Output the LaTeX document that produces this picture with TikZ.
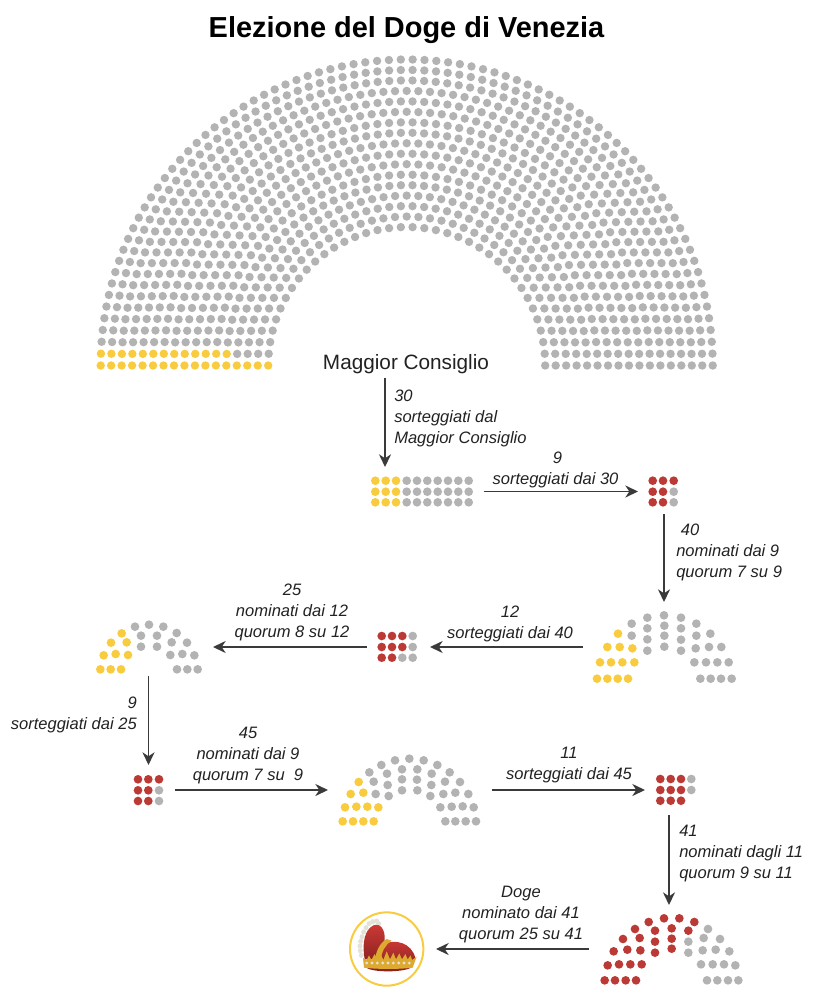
\documentclass[tikz,border=0pt]{standalone}
\usepackage{fontspec}
\setmainfont{Liberation Sans}
\usetikzlibrary{arrows.meta}
\definecolor{seatgray}{HTML}{B3B3B3}
\definecolor{seatyellow}{HTML}{F9CC3F}
\definecolor{seatred}{HTML}{BC3A35}
\definecolor{arrowcol}{HTML}{3A3A3A}
\definecolor{textcol}{HTML}{222222}
\definecolor{crownred}{HTML}{CF3A36}
\definecolor{crowndark}{HTML}{8E2422}
\definecolor{crowngold}{HTML}{DDA92F}
\definecolor{crownpearl}{HTML}{E4E2D8}
\newcommand{\seatset}[2]{\foreach \sx/\sy in {#2} \fill[#1] (\sx,\sy) circle (3.25pt);}
\tikzset{
  flow/.style={draw=arrowcol,line width=1.4pt,-{Stealth[length=9.5pt,width=9pt,inset=3pt]}},
  lab/.style={font=\fontsize{12.4}{15.75}\selectfont\itshape,text=textcol,inner sep=0pt,align=center},
  labl/.style={lab,align=left,anchor=west},
  labr/.style={lab,align=right,anchor=east},
  zoomed/.style={x=.25pt,y=-.25pt}
}
\begin{document}
\begin{tikzpicture}[x=.75pt,y=-.75pt]
\useasboundingbox (0,0) rectangle (818,1002);
\fill[white] (0,0) rectangle (818,1002);
% title
\node[font=\fontsize{21.7}{26}\selectfont\bfseries,text=black,inner sep=0pt] (title) at (406.5,30.5) {Elezione del Doge di Venezia};
% great hemicycle
\foreach \ring/\nn in {0/37,1/40,2/43,3/46,4/49,5/51,6/54,7/57,8/60,9/63,10/65,11/68,12/71,13/74,14/77,15/79,16/81}{
  \pgfmathsetmacro{\rad}{138.5+10.47*\ring}
  \foreach \k in {0,...,\nn}{
    \pgfmathsetmacro{\ang}{180-\k*180/\nn}
    \def\seatcol{seatgray}
    \ifnum\k=0 \def\seatcol{seatyellow}\fi
    \ifnum\k=1 \ifnum\ring>3 \def\seatcol{seatyellow}\fi\fi
    \fill[\seatcol] ({406.7+\rad*cos(\ang)},{365.5-\rad*sin(\ang)}) circle (3.15pt);
  }
}
\node[font=\fontsize{15.56}{18}\selectfont,text=textcol,inner sep=0pt] (mc) at (406,364.5) {Maggior Consiglio};
% group of 30
\foreach \gy in {480.7,491.7,502.3}{
  \foreach \gx in {375.3,385.7,396}{\fill[seatyellow] (\gx,\gy) circle (3.25pt);}
  \foreach \gx in {406.7,417,427.3,437.7,448,458.3,468.7}{\fill[seatgray] (\gx,\gy) circle (3.25pt);}
}
% group of 9
\seatset{seatred}{652.7/480.7,663/480.7,673.7/480.7,652.7/491.7,663/491.7,652.7/502.3,663/502.3}
\seatset{seatgray}{673.7/491.7,673.7/502.3}
% hemicycle of 40
\begin{scope}[shift={(580,600)},zoomed]
\seatset{seatyellow}{51/236,82/236,113/236,144/236,60/187,93/187,127/187,163/187,82/141,119/141,157/145,114/101}
\seatset{seatgray}{361/236,392/236,423/236,455/236,343/187,378/187,412/187,446/187,347/145,387/141,424/141,391/101,349/107,349/71,303/152,303/119,303/85,303/53,253/140,253/107,253/77,252/46,202/152,202/118,202/85,202/53,155/107,155/71}
\end{scope}
% group of 12
\seatset{seatred}{381.7/636,392/636,402.3/636,381.7/647,392/647,402.3/647,381.7/657.7,392/657.7}
\seatset{seatgray}{412.7/636,412.7/647,402.3/657.7,412.7/657.7}
% hemicycle of 25
\begin{scope}[shift={(80,610)},zoomed]
\seatset{seatyellow}{61/178,92/178,123/178,71/136,107/132,144/135,93/98,140/97,125/70}
\seatset{seatgray}{291/178,322/178,353/178,271/135,307/132,343/136,275/97,321/98,290/69,231/110,183/110,231/77,183/77,165/50,207/44,250/50}
\end{scope}
% group of 9 (second)
\seatset{seatred}{138/779.3,148.3/779.3,159/779.3,138/790.3,148.3/790.3,138/801,148.3/801}
\seatset{seatgray}{159/790.3,159/801}
% hemicycle of 45
\begin{scope}[shift={(330,745)},zoomed]
\seatset{seatyellow}{38/229,69/229,100/229,131/229,45/187,79/185,112/185,145/187,62/147,100/143,86/111}
\seatset{seatgray}{346/229,376/229,407/229,438/229,331/187,365/185,398/184,431/187,301/153,340/147,376/143,415/147,304/120,345/110,390/111,305/86,359/82,262/136,261/104,262/73,281/46,322/60,216/136,216/103,216/73,238/41,195/46,154/60,176/153,173/120,171/86,118/82,131/110,137/147}
\end{scope}
% group of 11
\seatset{seatred}{660.3/779,670.7/779,681/779,660.3/790,670.7/790,681/790,660.3/800.7,670.7/800.7,681/800.7}
\seatset{seatgray}{691.3/779,691.3/790}
% hemicycle of 41
\begin{scope}[shift={(590,890)},zoomed]
\seatset{seatred}{44/271,75/271,107/271,138/271,53/226,87/223,121/223,155/223,71/184,112/179,151/181,195/188,99/147,149/144,195/155,245/176,135/117,195/122,245/146,176/96,245/115,295/122,222/85,268/85,313/96}
\seatset{seatgray}{351/271,382/271,414/271,445/271,333/223,368/223,402/223,436/226,338/181,377/179,418/184,295/188,295/155,341/144,390/147,354/117}
\end{scope}
% crown
\draw[draw=seatyellow,line width=1.5pt,fill=white] (386.7,949) circle (27.5pt);
\begin{scope}[shift={(340,880)},zoomed]
\foreach \px/\py in {64/226,61/212,60/198,62/184,66/170,71/156,78/143,87/131,98/125,110/123,116/131}
  \fill[crownpearl] (\px,\py) circle (1.9pt);
\shade[top color=crownred,bottom color=crowndark]
  (74,238) .. controls (66,195) and (72,150) .. (100,136) .. controls (122,128) and (136,150) .. (134,180) -- (126,205) -- (110,238) -- cycle;
\shade[top color=crownred,bottom color=crowndark!85!crownred]
  (120,240) -- (132,192) .. controls (165,176) and (215,188) .. (226,234) -- (222,245) -- cycle;
\fill[crowndark] (76,258) -- (216,258) .. controls (214,270) and (170,274) .. (145,274) .. controls (115,274) and (78,270) .. (76,258) -- cycle;
\fill[crowngold] (72,263) -- (69,234) -- (80,240) -- (87,226) -- (94,240) -- (104,222) -- (113,240) -- (122,222) -- (130,240) -- (140,214) -- (150,238) -- (160,218) -- (168,238) -- (178,220) -- (186,238) -- (196,222) -- (203,238) -- (212,226) -- (216,240) -- (230,230) -- (218,263) .. controls (180,268) and (110,268) .. (72,263) -- cycle;
\fill[crowngold] (105,240) .. controls (108,215) and (118,190) .. (140,177) -- (155,182) .. controls (135,195) and (125,215) .. (122,240) -- cycle;
\foreach \px in {80,96,112,128,144,160,176,192,208}
  \fill[crownpearl] (\px,249) circle (1.2pt);
\end{scope}
% connector end points
\coordinate (a1s) at (385,378); \coordinate (a1e) at (385,467);
\coordinate (a2s) at (484,491.5); \coordinate (a2e) at (638,491.5);
\coordinate (a3s) at (664,514); \coordinate (a3e) at (664,602);
\coordinate (a4s) at (583,647); \coordinate (a4e) at (430,647);
\coordinate (a5s) at (366.5,647); \coordinate (a5e) at (213,647);
\coordinate (a6s) at (148.5,676); \coordinate (a6e) at (148.5,765);
\coordinate (a7s) at (175,790); \coordinate (a7e) at (328,790);
\coordinate (a8s) at (492,790); \coordinate (a8e) at (645,790);
\coordinate (a9s) at (669,815); \coordinate (a9e) at (669,905);
\coordinate (a10s) at (589,949); \coordinate (a10e) at (436,949);
\draw[flow] (a1s) -- (a1e);
\draw[flow] (a2s) -- (a2e);
\draw[flow] (a3s) -- (a3e);
\draw[flow] (a4s) -- (a4e);
\draw[flow] (a5s) -- (a5e);
\draw[flow] (a6s) -- (a6e);
\draw[flow] (a7s) -- (a7e);
\draw[flow] (a8s) -- (a8e);
\draw[flow] (a9s) -- (a9e);
\draw[flow] (a10s) -- (a10e);
% labels
\node[labl] (l1) at (394,418.5) {30\\sorteggiati dal\\Maggior Consiglio};
\node[lab] (l2) at (555.5,470) {\hspace*{3pt}9\\sorteggiati dai 30};
\node[labl] (l3) at (676,552.5) {\hspace*{3.5pt}40\\nominati dai 9\\quorum 7 su 9};
\node[lab] (l4) at (510,624) {12\\sorteggiati dai 40};
\node[lab] (l5) at (292,612.5) {25\\nominati dai 12\\quorum 8 su 12};
\node[labr] (l6) at (137,715) {9\\sorteggiati dai 25};
\node[lab] (l7) at (248,755.5) {45\\nominati dai 9\\quorum 7 su \ 9};
\node[lab] (l8) at (569,765) {11\\sorteggiati dai 45};
\node[labl] (l9) at (679,853.5) {41\\nominati dagli 11\\quorum 9 su 11};
\node[lab] (l10) at (521,914.5) {Doge\\nominato dai 41\\quorum 25 su 41};
\end{tikzpicture}
\end{document}
